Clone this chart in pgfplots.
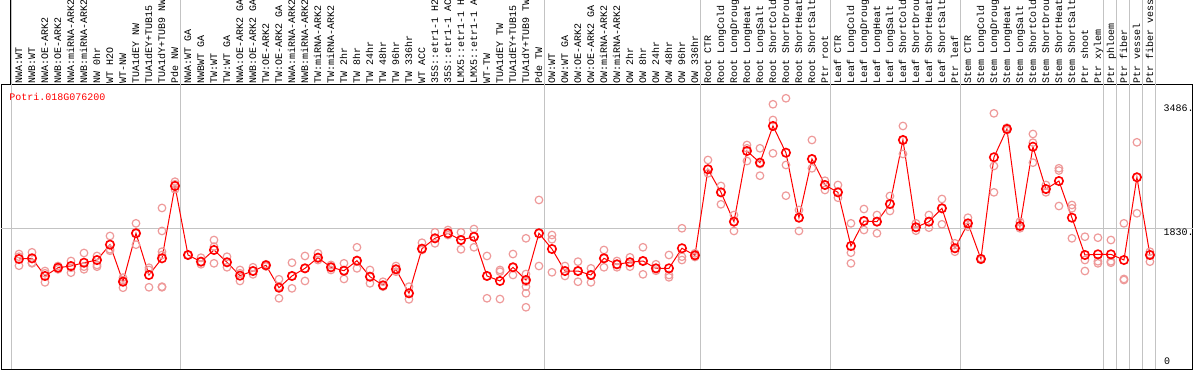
\documentclass[border=0pt]{standalone}
\usepackage{pgfplots}
\pgfplotsset{compat=1.18}
\usepackage{pgfplotstable}
\usepackage{fontspec}
\setmainfont{Liberation Sans}
\newfontfamily\monofont{Liberation Mono}
\definecolor{repcol}{RGB}{238,153,153}
\definecolor{gridgray}{RGB}{195,195,195}

\pgfplotstableread{
x y
0 1420
1 1429
2 1193
3 1303
4 1326
5 1370
6 1406
7 1611
8 1116
9 1763
10 1206
11 1429
12 2395
13 1473
14 1384
15 1540
16 1376
17 1197
18 1259
19 1336
20 1036
21 1193
22 1295
23 1437
24 1309
25 1263
26 1397
27 1183
28 1068
29 1282
30 962
31 1557
32 1696
33 1763
34 1673
35 1717
36 1193
37 1126
38 1309
39 1139
40 1763
41 1553
42 1259
43 1259
44 1206
45 1429
46 1349
47 1376
48 1393
49 1295
50 1295
51 1563
52 1469
53 2618
54 2310
55 1918
56 2862
57 2706
58 3196
59 2839
60 1971
61 2755
62 2408
63 2310
64 1593
65 1927
66 1918
67 2154
68 3009
69 1843
70 1918
71 2097
72 1563
73 1896
74 1420
75 2778
76 3156
77 1860
78 2919
79 2354
80 2461
81 1971
82 1473
83 1482
84 1482
85 1406
86 2511
87 1473
}\means

\pgfplotstableread{
x y
0 1486
0 1450
0 1330
1 1509
1 1370
1 1362
2 1259
2 1229
2 1108
3 1326
3 1282
3 1303
4 1393
4 1303
4 1237
5 1500
5 1317
5 1282
6 1460
6 1340
6 1317
7 1727
7 1549
7 1530
8 1170
8 1139
8 1036
9 1896
9 1611
9 1763
10 1303
10 1273
10 1042
11 2101
11 1794
11 1517
11 1473
11 1050
11 1042
12 2452
12 2417
12 2350
13 1473
13 1470
13 1476
14 1437
14 1349
14 1384
15 1673
15 1584
15 1362
16 1450
16 1309
16 1376
17 1273
17 1229
17 1126
18 1309
18 1215
18 1259
19 1349
19 1336
19 1320
20 1149
20 895
20 1050
21 1370
21 1028
21 1193
22 1460
22 1126
22 1295
23 1496
23 1406
23 1437
24 1340
24 1273
24 1309
25 1362
25 1153
25 1263
26 1576
26 1295
26 1397
27 1273
27 1095
27 1183
28 1116
28 1050
28 1068
29 1326
29 1250
29 1282
30 1050
30 881
30 962
31 1637
31 1540
31 1557
32 1776
32 1629
32 1696
33 1807
33 1740
33 1763
34 1776
34 1549
34 1673
35 1820
35 1576
35 1717
36 1460
36 895
36 1193
37 1273
37 1250
37 885
38 1486
38 1206
38 1309
39 1696
39 1219
39 1116
39 1050
39 962
39 775
40 2208
40 1326
40 1763
41 1740
41 1683
41 1242
42 1326
42 1193
42 1259
43 1384
43 1116
43 1259
44 1295
44 1108
44 1206
45 1540
45 1309
45 1429
46 1393
46 1309
46 1349
47 1442
47 1317
47 1376
48 1576
48 1215
48 1393
49 1349
49 1263
49 1295
50 1473
50 1206
50 1175
51 1830
51 1450
51 1406
52 1496
52 1446
52 1469
53 2742
53 2564
53 2618
54 2395
54 2150
54 2310
55 2007
55 1794
55 1918
56 2942
56 2898
56 2728
57 2898
57 2688
57 2532
58 3486
58 3276
58 2831
59 3566
59 2675
59 2265
60 2074
60 1794
60 1971
61 3009
61 2631
61 2755
62 2465
62 2341
62 2408
63 2408
63 2238
63 2310
64 1896
64 1504
64 1362
65 2087
65 1807
65 1927
66 2007
66 1763
66 1918
67 2261
67 2061
67 2154
68 3196
68 2822
68 3009
69 1896
69 1798
69 1843
70 2007
70 1838
70 1918
71 2221
71 1883
71 2097
72 1629
72 1517
72 1563
73 1971
73 1851
73 1896
74 1420
74 1410
74 1430
75 3365
75 2662
75 2310
76 3173
76 3140
76 3156
77 1918
77 1830
77 1860
78 3089
78 2973
78 2706
79 2408
79 2310
79 2354
80 2631
80 2601
80 2127
81 2141
81 2097
81 1696
82 1717
82 1406
82 1259
83 1704
83 1389
83 1362
84 1673
84 1389
84 1370
85 1896
85 1153
85 1139
86 2978
86 2030
86 2511
87 1517
87 1384
87 1480
}\reps

\begin{document}
\begin{tikzpicture}
\useasboundingbox (-1.5bp,-1bp) rectangle (1192.5bp,369bp);
\begin{axis}[
  at={(0bp,0bp)}, anchor=south west,
  scale only axis, width=1191.5bp, height=284bp,
  xmin=-1.346, xmax=90.31, ymin=-49.4, ymax=3743.3,
  axis line style={black, line width=1bp},
  clip=false,
  xtick={0,...,87},
  xticklabels={{NWA:WT},{NWB:WT},{NWA:OE-ARK2},{NWB:OE-ARK2},{NWA:miRNA-ARK2},{NWB:miRNA-ARK2},{NW 0hr},{WT H2O},{WT-NW},{TUA1dEY NW},{TUA1dEY+TUB15},{TUA1dY+TUB9 NW},{Pde NW},
    {NWA:WT GA},{NWBWT GA},{TW:WT},{TW:WT GA},{NWA:OE-ARK2 GA},{NWB:OE-ARK2 GA},{TW:OE-ARK2},{TW:OE-ARK2 GA},{NWA:miRNA-ARK2},{NWB:miRNA-ARK2},{TW:miRNA-ARK2},{TW:miRNA-ARK2},{TW 2hr},{TW 8hr},{TW 24hr},{TW 48hr},{TW 96hr},{TW 336hr},{WT ACC},{35S::etr1-1 H2},{35S::etr1-1 AC},{LMX5::etr1-1 H},{LMX5::etr1-1 A},{WT-TW},{TUA1dEY TW},{TUA1dEY+TUB15},{TUA1dY+TUB9 TW},{Pde TW},
    {OW:WT},{OW:WT GA},{OW:OE-ARK2},{OW:OE-ARK2 GA},{OW:miRNA-ARK2},{OW:miRNA-ARK2},{OW 2hr},{OW 8hr},{OW 24hr},{OW 48hr},{OW 96hr},{OW 336hr},
    {Root CTR},{Root LongCold},{Root LongDroug},{Root LongHeat},{Root LongSalt},{Root ShortCold},{Root ShortDrou},{Root ShortHeat},{Root ShortSalt},{Ptr root},
    {Leaf CTR},{Leaf LongCold},{Leaf LongDroug},{Leaf LongHeat},{Leaf LongSalt},{Leaf ShortCold},{Leaf ShortDrou},{Leaf ShortHeat},{Leaf ShortSalt},{Ptr leaf},
    {Stem CTR},{Stem LongCold},{Stem LongDroug},{Stem LongHeat},{Stem LongSalt},{Stem ShortCold},{Stem ShortDrou},{Stem ShortHeat},{Stem ShortSalt},{Ptr shoot},
    {Ptr xylem},{Ptr phloem},{Ptr fiber},{Ptr vessel},{Ptr fiber vess}},
  xticklabel pos=right,
  xtick style={draw=none},
  major tick length=0pt,
  xticklabel shift=1bp,
  xticklabel style={rotate=90, anchor=west, inner sep=0pt, text height=6.5bp, text depth=0bp,
    font=\monofont\fontsize{10bp}{12bp}\selectfont},
  ytick=\empty,
  extra y ticks={1830},
  extra y tick labels={},
  extra y tick style={grid=major, tick style={draw=none}},
  major grid style={gridgray, line width=1bp},
]
\foreach \gx in {-0.6,12.4,40.45,52.45,62.45,72.4,83.4,84.45,85.4,86.4,87.4}{
  \edef\tmp{\noexpand\draw[gridgray, line width=1bp] (axis cs:\gx,-49.4) -- (axis cs:\gx,4900);}
  \tmp
}
\addplot[only marks, mark=o, mark size=3.8bp, color=repcol, mark options={line width=1.2bp}] table {\reps};
\addplot[red, line width=1bp, mark=o, mark size=4.2bp, mark options={line width=1.6bp, fill=none}] table {\means};
\end{axis}
\draw[black, line width=1bp] (8.5bp,284bp) -- (8.5bp,370bp);
\node[anchor=west, inner sep=0pt, red, font=\monofont\fontsize{10bp}{12bp}\selectfont] at (7.8bp,272.3bp) {Potri.018G076200};
\node[anchor=west, inner sep=0pt, font=\monofont\fontsize{10bp}{12bp}\selectfont] at (1161.8bp,260.7bp) {3486.};
\node[anchor=west, inner sep=0pt, font=\monofont\fontsize{10bp}{12bp}\selectfont] at (1161.8bp,136.7bp) {1830.};
\node[anchor=west, inner sep=0pt, font=\monofont\fontsize{10bp}{12bp}\selectfont] at (1162.5bp,7.3bp) {0};
\end{tikzpicture}
\end{document}
